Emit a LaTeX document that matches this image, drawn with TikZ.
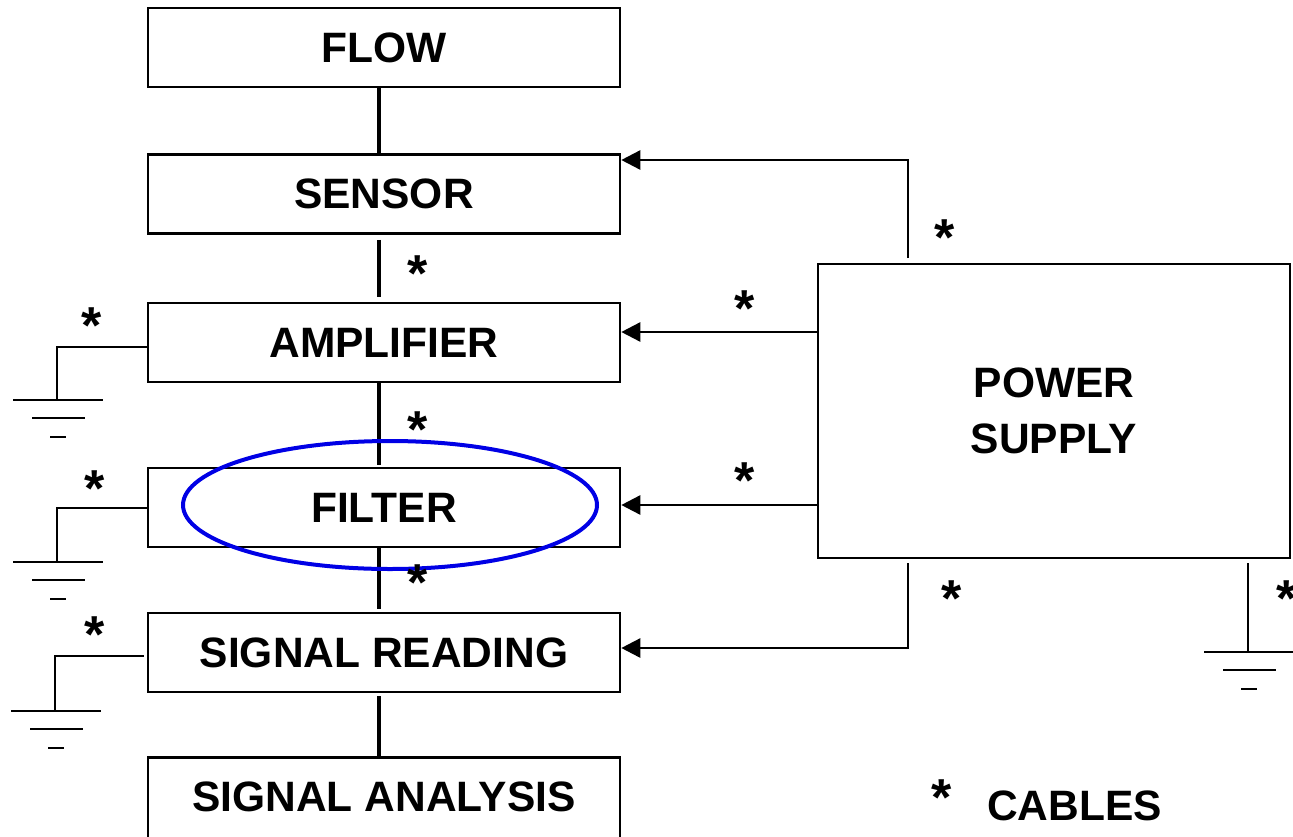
\documentclass[tikz,border=0pt]{standalone}
\usepackage{fontspec}
\setmainfont{Liberation Sans}
\usetikzlibrary{arrows.meta}
\begin{document}
\begin{tikzpicture}[x=1pt,y=-1pt,
  lbl/.style={font=\fontsize{42.5}{56}\selectfont\bfseries},
  blk/.style={draw,line width=2.6pt,minimum width=472pt,minimum height=79pt,inner sep=0pt,lbl},
  vlink/.style={line width=4pt},
  feed/.style={line width=2.6pt,-{Triangle[length=19pt,width=19pt]}},
  gnd/.style={line width=2.8pt},
  ast/.style={inner sep=0pt,anchor=north,font=\fontsize{52}{52}\selectfont\bfseries},
  ring/.style={draw=blue!90!black,line width=4pt}]
\useasboundingbox (0,0) rectangle (1293,836);
\clip (0,0) rectangle (1293,836);

% boxes
\node[blk] (flow)   at (384,47.5)  {FLOW};
\node[blk] (sensor) at (384,194)   {SENSOR};
\node[blk] (amp)    at (384,342.5) {AMPLIFIER};
\node[blk] (filter) at (384,507.5) {FILTER};
\node[blk] (sread)  at (384,652.5) {SIGNAL READING};
\node[blk,draw=none,outer sep=0pt] (sana) at (384,797) {SIGNAL ANALYSIS};
\draw[line width=2.6pt] (sana.north west) rectangle ([yshift=-12pt]sana.south east);
\node[draw,line width=2.6pt,minimum width=472pt,minimum height=294pt,inner sep=0pt,align=center,lbl]
  (ps) at (1054,411) {POWER\\SUPPLY};

% vertical signal chain
\draw[vlink] (flow.south -| 379,0) -- (sensor.north -| 379,0);
\draw[vlink,shorten <=5pt,shorten >=5pt] (sensor.south -| 379,0) -- (amp.north -| 379,0);
\draw[vlink,shorten >=2pt] (amp.south -| 379,0) -- (filter.north -| 379,0);
\draw[vlink,shorten >=3pt] (filter.south -| 379,0) -- (sread.north -| 379,0);
\draw[vlink,shorten <=3pt] (sread.south -| 379,0) -- (sana.north -| 379,0);

% power feeds
\coordinate (pstop) at (908,258);
\coordinate (psbot) at (908,563);
\draw[feed] (pstop) |- (sensor.east |- 0,160);
\draw[feed] (ps.west |- 0,332) -- (amp.east |- 0,332);
\draw[feed] (ps.west |- 0,505) -- (filter.east |- 0,505);
\draw[feed] (psbot) |- (sread.east |- 0,648);

% grounds
\coordinate (g1) at (57,400);
\coordinate (g2) at (57,562);
\coordinate (g3) at (55,711);
\coordinate (g4) at (1248,652);
\draw[gnd] (amp.west |- 0,347) -| (g1);
\draw[gnd] (filter.west |- 0,508) -| (g2);
\draw[gnd] ([xshift=-3pt]sread.west |- 0,656) -| (g3);
\draw[gnd] (1248,563) -- (g4);
\foreach \g in {g1,g2,g3,g4}{
  \draw[gnd] ([xshift=-44pt]\g) -- ([xshift=46pt]\g);
  \draw[gnd] ([xshift=-25pt,yshift=-18pt]\g) -- ([xshift=28pt,yshift=-18pt]\g);
  \draw[gnd] ([xshift=-7pt,yshift=-37pt]\g) -- ([xshift=9pt,yshift=-37pt]\g);
}

% highlight
\draw[ring] (390,505) ellipse [x radius=207, y radius=64];

% cable marks
\node[ast] (a1) at (418,256) {*};
\node[ast] (a2) at (418,412) {*};
\node[ast] (a3) at (418,565) {*};
\node[ast] (a4) at (92,308) {*};
\node[ast] (a5) at (95,471) {*};
\node[ast] (a6) at (95,617) {*};
\node[ast] (a7) at (945,220) {*};
\node[ast] (a8) at (745,291) {*};
\node[ast] (a9) at (745,463) {*};
\node[ast] (a10) at (952,581) {*};
\node[ast] (a11) at (1287,581) {*};
\node[ast] (a12) at (942,780) {*};
\node[lbl,anchor=west,inner sep=0pt] (cab) at (987,806) {CABLES};
\end{tikzpicture}
\end{document}
